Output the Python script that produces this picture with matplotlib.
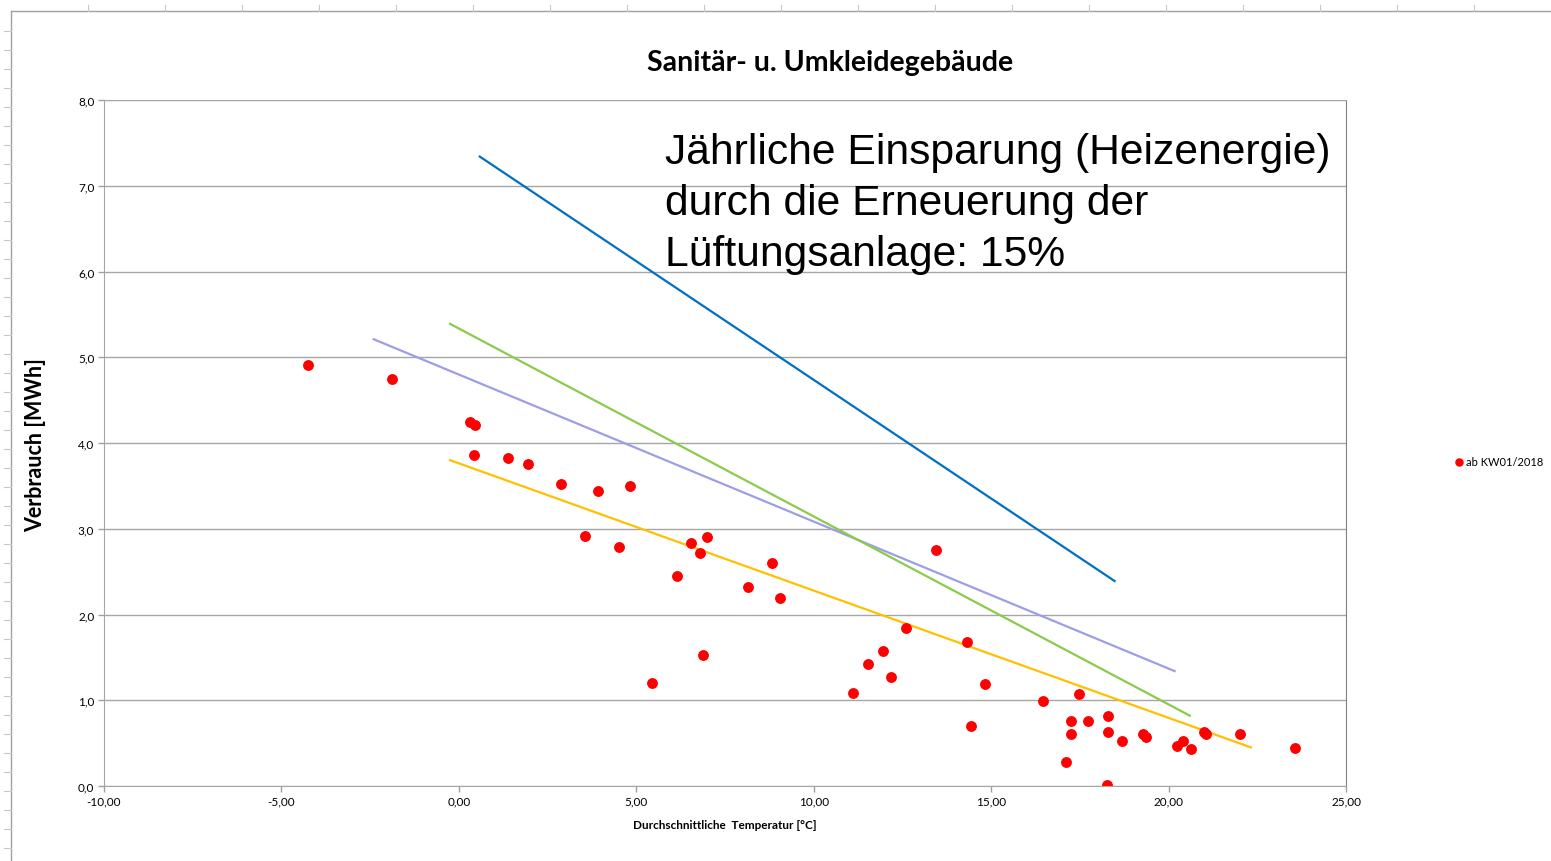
import matplotlib
matplotlib.use('Agg')
import matplotlib.pyplot as plt
from matplotlib.lines import Line2D

# Measured points (average temperature, consumption)
tempValues = [-4.25, -1.89, 0.31, 0.45, 0.42, 1.38, 1.94, 2.87, 3.92, 4.82,
              3.55, 4.51, 5.44, 6.14, 6.54, 6.79, 6.99, 6.88, 8.14, 8.82,
              9.04, 11.10, 11.52, 11.95, 12.17, 12.60, 13.44, 14.31, 14.43, 14.82,
              16.46, 17.10, 17.24, 17.24, 17.47, 17.72, 18.26, 18.29, 18.29, 18.68,
              19.27, 19.36, 20.23, 20.40, 20.63, 20.99, 21.05, 22.01, 23.56]
usageValues = [4.91, 4.75, 4.24, 4.21, 3.86, 3.83, 3.76, 3.52, 3.44, 3.50,
               2.92, 2.79, 1.20, 2.45, 2.83, 2.72, 2.90, 1.53, 2.32, 2.60,
               2.19, 1.08, 1.42, 1.57, 1.27, 1.84, 2.75, 1.68, 0.70, 1.19,
               0.99, 0.28, 0.76, 0.61, 1.07, 0.76, 0.01, 0.82, 0.63, 0.52,
               0.61, 0.57, 0.47, 0.52, 0.43, 0.63, 0.61, 0.61, 0.44]

# Trend lines (start / end points)
blueX = [0.59, 18.48]
blueY = [7.34, 2.39]
purpleX = [-2.40, 20.17]
purpleY = [5.21, 1.34]
greenX = [-0.25, 20.60]
greenY = [5.39, 0.82]
orangeX = [-0.25, 22.32]
orangeY = [3.80, 0.45]

xTicks = [-10, -5, 0, 5, 10, 15, 20, 25]
yTicks = [0, 1, 2, 3, 4, 5, 6, 7, 8]

plt.rcParams['font.family'] = ['Lato', 'DejaVu Sans']

figureWidth = 15.51
figureHeight = 8.62
fig = plt.figure(figsize=(figureWidth, figureHeight), dpi=100)

W = 1551
H = 862

# sheet ruler lines (Excel page layout look)
rulerColor = '#c8c8c8'
fig.add_artist(Line2D([11/W, 1], [1-12/H, 1-12/H], color='#a0a0a0', linewidth=1))
fig.add_artist(Line2D([11/W, 11/W], [0, 1-12/H], color='#a0a0a0', linewidth=1))
for px in range(88, W, 77):
    fig.add_artist(Line2D([px/W, px/W], [1-6/H, 1-12/H], color=rulerColor, linewidth=0.8))
for py in range(32, H, 19):
    fig.add_artist(Line2D([4/W, 11/W], [1-py/H, 1-py/H], color=rulerColor, linewidth=0.8))

panel = fig.add_axes([104/W, 75/H, 1242/W, 686/H])
panel.set_xlim(-10, 25)
panel.set_ylim(0, 8)
panel.set_xticks(xTicks)
panel.set_yticks(yTicks)
panel.set_yticklabels([('%.1f' % v).replace('.', ',') for v in yTicks])
panel.set_xticklabels([('%.2f' % v).replace('.', ',') for v in xTicks])
panel.tick_params(axis='both', labelsize=8.5, color='#a0a0a0', length=4, width=1, pad=3)
panel.grid(axis='y', color='#a6a6a6', linewidth=1)
panel.set_axisbelow(True)
for side in ['left', 'bottom', 'top']:
    panel.spines[side].set_color('#a6a6a6')
panel.spines['right'].set_color('#808080')

panel.plot(blueX, blueY, color='#0070C0', linewidth=1.6)
panel.plot(purpleX, purpleY, color='#9E9EE6', linewidth=1.6)
panel.plot(greenX, greenY, color='#8ACB4C', linewidth=1.6)
panel.plot(orangeX, orangeY, color='#FFC000', linewidth=1.6)
panel.plot(tempValues, usageValues, linestyle='none', marker='o', markersize=6.8,
           markerfacecolor='#FF0000', markeredgecolor='#FF0000', label='ab KW01/2018')

panel.set_xlabel('Durchschnittliche  Temperatur [°C]', fontsize=8.5, fontweight='bold')
panel.xaxis.set_label_coords((725 - 104) / 1242, -(820 - 787) / 686)
panel.set_ylabel('Verbrauch [MWh]', fontsize=15.5, fontweight='bold')
panel.yaxis.set_label_coords(-(104 - 46) / 1242, (787 - 445) / 686)

fig.text(830/W, 1-63/H, 'Sanitär- u. Umkleidegebäude', fontsize=20.5, fontweight='bold',
         ha='center', va='center')

fig.text(665/W, 1-133/H, 'Jährliche Einsparung (Heizenergie)\ndurch die Erneuerung der\nLüftungsanlage: 15%',
         family=['Liberation Sans', 'DejaVu Sans'], fontsize=30.7, ha='left', va='top',
         linespacing=1.35)

fig.legend(loc='center left', bbox_to_anchor=(1456/W, 1-463/H), frameon=False,
           fontsize=8, handlelength=0.6, handletextpad=0.3, borderaxespad=0,
           borderpad=0, markerscale=0.75)

plt.savefig('out.png', dpi=100)
